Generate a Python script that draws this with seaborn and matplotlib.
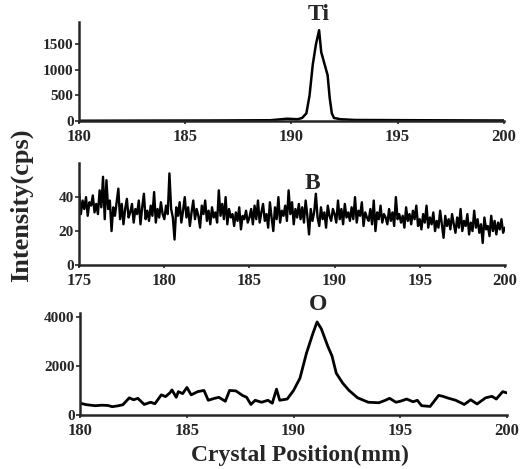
import numpy as np
import pandas as pd
import matplotlib
matplotlib.use("Agg")
import matplotlib.pyplot as plt
import seaborn as sns

# ---- Ti profile (mm, cps) ----
ti_pos = [180.0, 183.0, 186.0, 189.0, 189.8, 190.0, 190.3, 190.5, 190.7, 190.85,
          191.0, 191.15, 191.3, 191.4, 191.5, 191.6, 191.7, 191.8, 191.9, 192.0,
          192.3, 193.0, 196.0, 200.0]
ti_cps = [5, 8, 10, 15, 45, 40, 35, 60, 150, 500,
          1100, 1500, 1780, 1350, 1200, 1050, 900, 450, 150, 60,
          35, 20, 15, 10]

# ---- B profile, 0.1 mm steps from 175 to 200 ----
b_start, b_stop = 175.0, 200.0
b_cps = [42, 30, 38, 33, 40, 29, 37, 35, 41, 31,
         36, 30, 44, 34, 52, 27, 50, 33, 38, 20,
         34, 29, 37, 45, 27, 36, 24, 33, 39, 28,
         31, 36, 25, 33, 30, 38, 24, 34, 42, 27,
         32, 26, 35, 29, 43, 25, 33, 28, 37, 30,
         27, 35, 30, 54, 33, 28, 15, 34, 29, 37,
         25, 32, 40, 28, 34, 23, 31, 38, 27, 33,
         29, 22, 35, 30, 38, 26, 32, 24, 34, 28,
         31, 25, 44, 29, 36, 27, 40, 24, 33, 28,
         30, 23, 31, 26, 34, 21, 29, 27, 32, 25,
         28, 33, 24, 35, 27, 38, 25, 31, 36, 26,
         30, 22, 37, 28, 20, 34, 27, 40, 25, 32,
         29, 35, 26, 44, 30, 37, 24, 33, 28, 36,
         27, 34, 25, 38, 29, 18, 33, 26, 31, 42,
         28, 23, 34, 27, 31, 22, 35, 29, 26, 33,
         30, 25, 38, 27, 33, 24, 36, 28, 31, 26,
         34, 27, 40, 25, 32, 29, 37, 23, 31, 28,
         26, 33, 24, 38, 20, 31, 27, 35, 25, 30,
         28, 24, 33, 26, 31, 23, 40, 27, 30, 25,
         29, 22, 34, 26, 30, 24, 32, 27, 35, 23,
         27, 21, 30, 25, 35, 22, 28, 24, 31, 20,
         26, 22, 32, 24, 16, 29, 23, 27, 21, 30,
         24, 19, 28, 22, 33, 20, 26, 23, 30, 18,
         25, 20, 32, 22, 27, 19, 24, 13, 28, 21,
         23, 17, 29, 20, 26, 18, 25, 21, 27, 19,
         22]

# ---- O profile (mm, cps) ----
o_pos = [180.0, 180.3, 180.7, 181.0, 181.3, 181.5, 181.8, 182.0, 182.3, 182.5,
         182.7, 183.0, 183.3, 183.5, 183.8, 184.0, 184.2, 184.3, 184.5, 184.6,
         184.8, 185.0, 185.2, 185.5, 185.8, 186.0, 186.3, 186.5, 186.8, 187.0,
         187.3, 187.6, 187.8, 188.0, 188.2, 188.5, 188.8, 189.0, 189.2, 189.35,
         189.7, 190.0, 190.3, 190.6, 190.9, 191.1, 191.3, 191.6, 191.8, 192.0,
         192.3, 192.6, 193.0, 193.5, 194.0, 194.3, 194.5, 194.8, 195.0, 195.3,
         195.6, 195.8, 196.0, 196.4, 196.8, 197.0, 197.2, 197.6, 198.0, 198.3,
         198.6, 199.0, 199.3, 199.5, 199.8, 200.0]
o_cps = [480, 420, 380, 400, 390, 340, 380, 420, 700, 620,
         680, 430, 520, 460, 820, 750, 900, 1020, 720, 950,
         870, 1120, 820, 950, 1000, 600, 680, 720, 560, 1000,
         980, 800, 720, 430, 600, 520, 600, 480, 1050, 600,
         650, 1000, 1500, 2500, 3300, 3780, 3500, 2800, 2400, 1700,
         1300, 1000, 700, 520, 500, 600, 680, 520, 560, 650,
         540, 600, 380, 350, 800, 760, 700, 600, 430, 620,
         450, 700, 760, 650, 950, 900]

ti_df = pd.DataFrame({"pos": ti_pos, "cps": ti_cps})
b_df = pd.DataFrame({"pos": np.linspace(b_start, b_stop, len(b_cps)), "cps": b_cps})
o_df = pd.DataFrame({"pos": o_pos, "cps": o_cps})

sns.set_style("ticks")
plt.rcParams['font.family'] = ['Liberation Serif', 'DejaVu Serif']
plt.rcParams['font.weight'] = 'bold'

fig = plt.figure(figsize=(5.21, 4.69), dpi=100)
ax1 = fig.add_axes([0.152, 0.742, 0.815, 0.211])
ax2 = fig.add_axes([0.152, 0.435, 0.817, 0.217])
ax3 = fig.add_axes([0.154, 0.115, 0.819, 0.218])

sns.lineplot(data=ti_df, x="pos", y="cps", ax=ax1, color="black", linewidth=1.8)
sns.lineplot(data=b_df, x="pos", y="cps", ax=ax2, color="black", linewidth=1.7)
sns.lineplot(data=o_df, x="pos", y="cps", ax=ax3, color="black", linewidth=2.0)

panels = [
    (ax1, (180, 200), (0, 1940), [0, 500, 1000, 1500], [180, 185, 190, 195, 200], "Ti", (191.3, 2080)),
    (ax2, (175, 200), (0, 60), [0, 20, 40], [175, 180, 185, 190, 195, 200], "B", (188.7, 48)),
    (ax3, (180, 200), (0, 4150), [0, 2000, 4000], [180, 185, 190, 195, 200], "O", (191.15, 4490)),
]
for ax, xl, yl, yt, xt, name, pos in panels:
    ax.set_xlim(*xl)
    ax.set_ylim(*yl)
    ax.set_yticks(yt)
    ax.set_xticks(xt)
    ax.set_xlabel("")
    ax.set_ylabel("")
    sns.despine(ax=ax)
    for s in ("left", "bottom"):
        ax.spines[s].set_linewidth(1.8)
    ax.tick_params(axis="y", length=3, width=1.2, pad=1, labelsize=11)
    ax.tick_params(axis="x", length=2, width=1.2, pad=4, labelsize=12)
    for lab in ax.get_xticklabels() + ax.get_yticklabels():
        lab.set_fontweight("bold")
    ax.text(pos[0], pos[1], name, ha="center", va="center", fontsize=17,
            fontweight="bold", clip_on=False)

fig.text(21 / 521, 1 - 205 / 469, "Intensity(cps)", rotation=90, ha="center",
         va="center", fontsize=19, fontweight="bold")
fig.text(0.575, 1 - 455 / 469, "Crystal Position(mm)", ha="center", va="center",
         fontsize=17, fontweight="bold")

fig.savefig("out.png", dpi=100)
